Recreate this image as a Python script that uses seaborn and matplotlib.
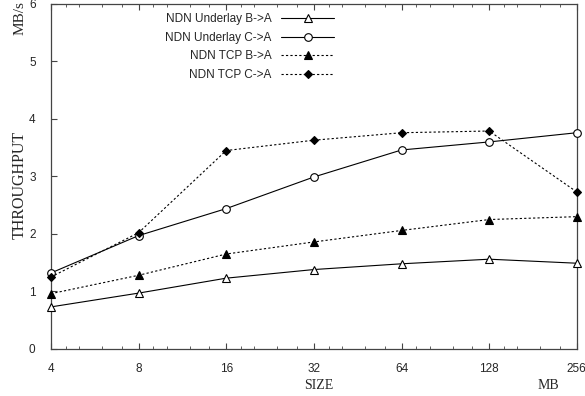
import numpy as np
import pandas as pd
import seaborn as sns
import matplotlib.pyplot as plt
from matplotlib.ticker import FixedLocator, NullFormatter

sizes = [4, 8, 16, 32, 64, 128, 256]
underlay_b = [0.73, 0.97, 1.23, 1.38, 1.48, 1.56, 1.49]
underlay_c = [1.32, 1.97, 2.44, 2.99, 3.46, 3.60, 3.76]
tcp_b = [0.96, 1.28, 1.65, 1.86, 2.06, 2.25, 2.30]
tcp_c = [1.25, 2.02, 3.45, 3.63, 3.76, 3.79, 2.73]

series = ["NDN Underlay B->A", "NDN Underlay C->A", "NDN TCP B->A", "NDN TCP C->A"]

df = pd.DataFrame({
    "size": sizes * 4,
    "throughput": underlay_b + underlay_c + tcp_b + tcp_c,
    "series": [s for s in series for _ in sizes],
})

sns.set_style("ticks")
plt.rcParams["font.family"] = ["Liberation Sans", "DejaVu Sans"]

fig = plt.figure(figsize=(5.85, 3.96), dpi=100)
ax = fig.add_axes([0.087, 0.119, 0.899, 0.871])

styles = {
    "NDN Underlay B->A": dict(marker="^", mfc="white", ls="-", ms=6),
    "NDN Underlay C->A": dict(marker="o", mfc="white", ls="-", ms=5.5),
    "NDN TCP B->A": dict(marker="^", mfc="black", ls=(0, (2, 2)), ms=6),
    "NDN TCP C->A": dict(marker="D", mfc="black", ls=(0, (2, 2)), ms=4.5),
}

for name in series:
    st = styles[name]
    sns.lineplot(data=df[df["series"] == name], x="size", y="throughput", ax=ax,
                 color="black", linewidth=0.8, linestyle=st["ls"], marker=st["marker"],
                 markerfacecolor=st["mfc"], markeredgecolor="black", markersize=st["ms"],
                 markeredgewidth=0.8, label=name, clip_on=False, zorder=3)

ax.set_xscale("log", base=2)
ax.set_xlim(4, 256)
ax.set_ylim(0, 6)
ax.set_xticks(sizes)
ax.set_xticklabels([str(s) for s in sizes])
minor = [b * f for b in sizes[:-1] for f in (1.125, 1.25, 1.5, 1.75)]
ax.xaxis.set_minor_locator(FixedLocator(minor))
ax.xaxis.set_minor_formatter(NullFormatter())
ax.set_yticks(range(7))

ax.tick_params(which="both", direction="in", top=True, right=False, labelsize=8.5,
               color="#444444")
ax.tick_params(axis="x", pad=10)
ax.tick_params(axis="y", pad=11)
ax.tick_params(which="major", length=4)
ax.tick_params(which="minor", length=2)
for sp in ax.spines.values():
    sp.set_linewidth(0.9)
    sp.set_color("#444444")

ax.set_xlabel("")
ax.set_ylabel("")
fig.text(0.545, 0.026, "SIZE", family="Liberation Serif", fontsize=10,
         ha="center", va="center")
fig.text(0.937, 0.026, "MB", family="Liberation Serif", fontsize=10,
         ha="center", va="center")
fig.text(0.034, 0.533, "THROUGHPUT", family="Liberation Serif", fontsize=11.5,
         rotation=90, va="center", ha="center")
fig.text(0.034, 0.955, "MB/s", family="Liberation Serif", fontsize=11,
         rotation=90, va="center", ha="center")

ax.legend(loc="upper right", bbox_to_anchor=(0.55, 0.99), frameon=False,
          markerfirst=False, handlelength=4.5, fontsize=8.5, labelspacing=0.55,
          borderpad=0, handletextpad=0.8)

fig.savefig("out.png", dpi=100)
